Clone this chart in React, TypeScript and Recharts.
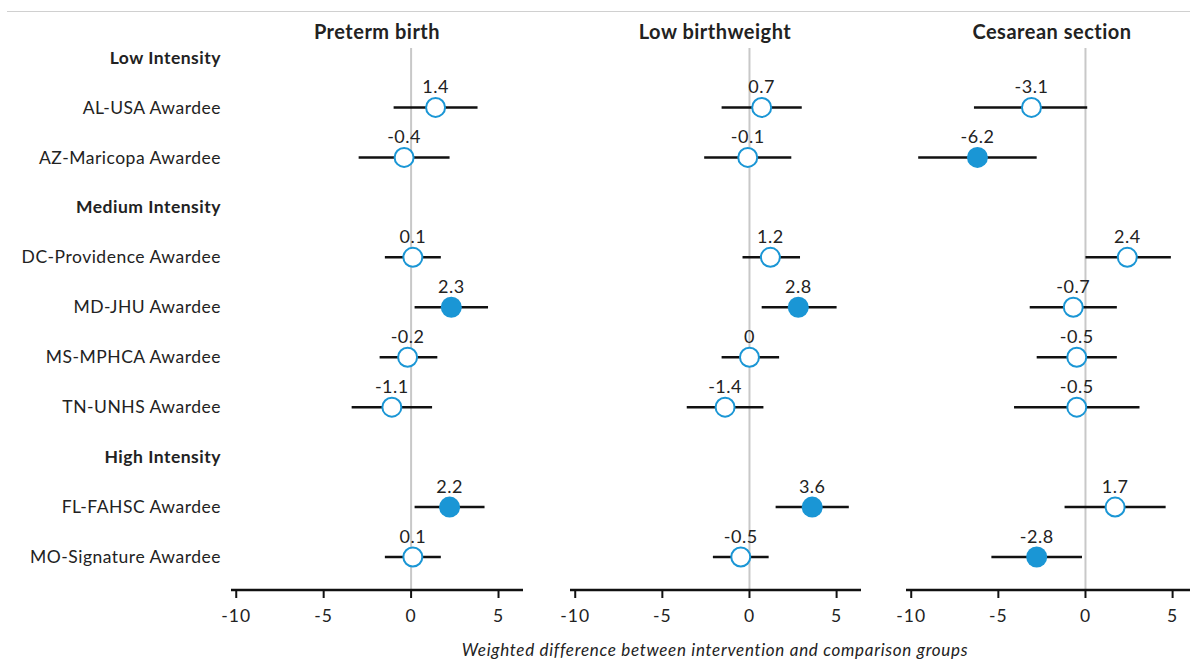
import React from "react";
import {
  ScatterChart,
  Scatter,
  XAxis,
  YAxis,
  ErrorBar,
  ReferenceLine,
} from "recharts";

const ROW_LABELS = [
  "Low Intensity",
  "AL-USA Awardee",
  "AZ-Maricopa Awardee",
  "Medium Intensity",
  "DC-Providence Awardee",
  "MD-JHU Awardee",
  "MS-MPHCA Awardee",
  "TN-UNHS Awardee",
  "High Intensity",
  "FL-FAHSC Awardee",
  "MO-Signature Awardee",
];
const HEADER_ROWS = [0, 3, 8];
const AWARDEE_ROWS = [1, 2, 4, 5, 6, 7, 9, 10];

const PANEL_TITLES = ["Preterm birth", "Low birthweight", "Cesarean section"];
const X_TICKS = [-10, -5, 0, 5];
const AXIS_TITLE = "Weighted difference between intervention and comparison groups";

const PRETERM_EST = [1.4, -0.4, 0.1, 2.3, -0.2, -1.1, 2.2, 0.1];
const PRETERM_LO = [-1.0, -3.0, -1.5, 0.2, -1.8, -3.4, 0.2, -1.5];
const PRETERM_HI = [3.8, 2.2, 1.7, 4.4, 1.5, 1.2, 4.2, 1.7];
const PRETERM_SIG = [0, 0, 0, 1, 0, 0, 1, 0];

const LBW_EST = [0.7, -0.1, 1.2, 2.8, 0, -1.4, 3.6, -0.5];
const LBW_LO = [-1.6, -2.6, -0.4, 0.7, -1.6, -3.6, 1.5, -2.1];
const LBW_HI = [3.0, 2.4, 2.9, 5.0, 1.7, 0.8, 5.7, 1.1];
const LBW_SIG = [0, 0, 0, 1, 0, 0, 1, 0];

const CS_EST = [-3.1, -6.2, 2.4, -0.7, -0.5, -0.5, 1.7, -2.8];
const CS_LO = [-6.4, -9.6, 0.0, -3.2, -2.8, -4.1, -1.2, -5.4];
const CS_HI = [0.1, -2.8, 4.9, 1.8, 1.8, 3.1, 4.6, -0.2];
const CS_SIG = [0, 1, 0, 0, 0, 0, 0, 1];

const BLUE = "#1a96d5";
const FONT = "Lato, 'Open Sans', sans-serif";
const X_DOMAIN = [-10.3, 6.4];
const Y_DOMAIN = [-0.19, 10.66];

function buildData(est: number[], lo: number[], hi: number[], sig: number[]) {
  return AWARDEE_ROWS.map((row, i) => ({
    row,
    est: est[i],
    err: [est[i] - lo[i], hi[i] - est[i]],
    sig: sig[i],
  }));
}

const PANELS = [
  { title: PANEL_TITLES[0], data: buildData(PRETERM_EST, PRETERM_LO, PRETERM_HI, PRETERM_SIG) },
  { title: PANEL_TITLES[1], data: buildData(LBW_EST, LBW_LO, LBW_HI, LBW_SIG) },
  { title: PANEL_TITLES[2], data: buildData(CS_EST, CS_LO, CS_HI, CS_SIG) },
];

const PAD = 20;
const LAYOUT = [
  { left: 0, width: 523 + PAD, yWidth: 231, padLeft: 0 },
  { left: 570 - PAD, width: 291 + 2 * PAD, yWidth: 0, padLeft: PAD },
  { left: 906 - PAD, width: 291 + 2 * PAD, yWidth: 0, padLeft: PAD },
];

const PointShape = (props: any) => {
  const { cx, cy, payload } = props;
  if (cx == null || cy == null) return null;
  const filled = payload.sig === 1;
  return (
    <g>
      <circle
        cx={cx}
        cy={cy}
        r={filled ? 10.5 : 9.5}
        fill={filled ? BLUE : "#fff"}
        stroke={BLUE}
        strokeWidth={filled ? 0 : 2}
      />
      <text
        x={cx}
        y={cy - 14}
        textAnchor="middle"
        fontSize={18}
        letterSpacing={0.5}
        fill="#222"
        fontFamily={FONT}
      >
        {String(payload.est)}
      </text>
    </g>
  );
};

const RowTick = (props: any) => {
  const { x, y, payload } = props;
  const idx = payload.value as number;
  const isHeader = HEADER_ROWS.includes(idx);
  return (
    <text
      x={x}
      y={y}
      dy="0.35em"
      textAnchor="end"
      fontSize={17.5}
      letterSpacing={0.5}
      fontWeight={isHeader ? 700 : 400}
      fill="#222"
      fontFamily={FONT}
    >
      {ROW_LABELS[idx]}
    </text>
  );
};

function Panel({ idx }: { idx: number }) {
  const p = PANELS[idx];
  const l = LAYOUT[idx];
  return (
    <div style={{ position: "absolute", left: l.left, top: 0 }}>
      <ScatterChart
        width={l.width}
        height={660}
        margin={{ top: 48, right: PAD, bottom: 0, left: l.padLeft }}
      >
        <XAxis
          type="number"
          dataKey="est"
          domain={X_DOMAIN}
          allowDataOverflow
          ticks={X_TICKS}
          interval={0}
          height={70}
          axisLine={{ stroke: "#111", strokeWidth: 2.5 }}
          tickLine={{ stroke: "#111", strokeWidth: 2 }}
          tickSize={8}
          tickMargin={12}
          tick={{ fontSize: 17.5, fill: "#222", fontFamily: FONT, letterSpacing: 1 }}
        />
        <YAxis
          type="number"
          dataKey="row"
          domain={Y_DOMAIN}
          allowDataOverflow
          reversed
          ticks={ROW_LABELS.map((_, i) => i)}
          interval={0}
          width={l.yWidth}
          hide={l.yWidth === 0}
          axisLine={false}
          tickLine={false}
          tickSize={0}
          tickMargin={10}
          tick={<RowTick />}
        />
        <ReferenceLine x={0} stroke="#c8c8c8" strokeWidth={2} />
        <Scatter
          data={p.data}
          shape={<PointShape />}
          isAnimationActive={false}
        >
          <ErrorBar
            dataKey="err"
            direction="x"
            width={0}
            stroke="#111"
            strokeWidth={2.5}
          />
        </Scatter>
      </ScatterChart>
    </div>
  );
}

export default function App() {
  const titleCenters = [377, 715, 1052];
  return (
    <div
      style={{
        position: "absolute",
        left: 0,
        top: 0,
        width: 1190,
        height: 660,
        overflow: "hidden",
        background: "#fff",
        fontFamily: FONT,
      }}
    >
      <div
        style={{
          position: "absolute",
          left: 7,
          top: 11,
          width: 1183,
          height: 1,
          background: "#d0d0d0",
        }}
      />
      {PANELS.map((_, i) => (
        <Panel key={i} idx={i} />
      ))}
      {PANELS.map((p, i) => (
        <div
          key={"t" + i}
          style={{
            position: "absolute",
            left: titleCenters[i] - 150,
            width: 300,
            top: 18,
            textAlign: "center",
            fontSize: 20,
            letterSpacing: 0.5,
            fontWeight: 700,
            color: "#222",
            lineHeight: "26px",
          }}
        >
          {p.title}
        </div>
      ))}
      <div
        style={{
          position: "absolute",
          left: 365,
          width: 700,
          top: 639,
          textAlign: "center",
          fontSize: 17,
          letterSpacing: 0.7,
          fontStyle: "italic",
          color: "#222",
          lineHeight: "22px",
        }}
      >
        {AXIS_TITLE}
      </div>
    </div>
  );
}
